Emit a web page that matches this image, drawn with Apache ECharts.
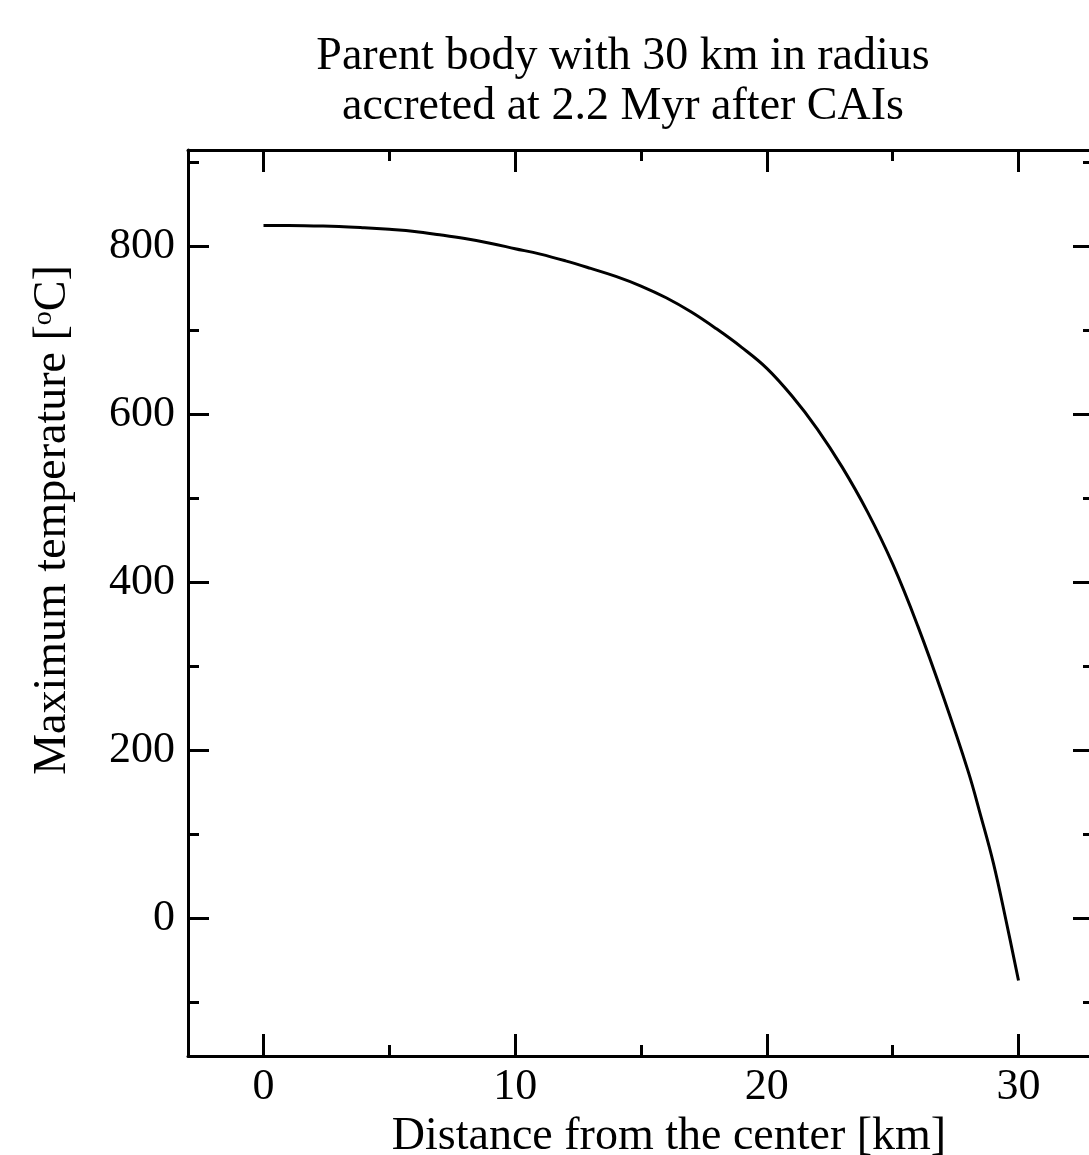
<!DOCTYPE html>
<html>
<head>
<meta charset="utf-8">
<script src="https://cdn.jsdelivr.net/npm/echarts@6/dist/echarts.min.js"></script>
<style>
html,body{margin:0;padding:0;background:#fff;}
#chart{width:1089px;height:1155px;}
</style>
</head>
<body>
<div id="chart"></div>
<script>
// Data
const distanceKm = [0,1,2,3,4,5,6,7,8,9,10,11,12,13,14,15,16,17,18,19,20,21,22,23,24,25,26,27,28,28.5,29,29.5,30];
const maxTempC   = [825,825,824.5,824,822.5,820.5,818,814,809.5,804,797.5,791,783,774,764.5,753,739,722,702,680,655,622,583,537,484,422,348,265,175,122,66,-2,-74];

const xMajorTicks = [0,10,20,30];
const xMinorTicks = [5,15,25];
const yMajorTicks = [0,200,400,600,800];
const yMinorTicks = [-100,100,300,500,700,900];

const titleLines = ['Parent body with 30 km in radius','accreted at 2.2 Myr after CAIs'];
const xName = 'Distance from the center [km]';

const FONT = '"Liberation Serif","DejaVu Serif",serif';
const INK = '#000';
const X_MIN = -3, X_MAX = 33, Y_MIN = -164, Y_MAX = 915;

function xAx(pos, ticks, len, opts) {
  return Object.assign({
    type: 'value', position: pos, min: X_MIN, max: X_MAX,
    axisLine: {show: false, onZero: false},
    axisTick: {show: true, inside: true, length: len, customValues: ticks, lineStyle: {color: INK, width: 3}},
    axisLabel: {show: false},
    splitLine: {show: false}
  }, opts || {});
}
function yAx(pos, ticks, len, opts) {
  return Object.assign({
    type: 'value', position: pos, min: Y_MIN, max: Y_MAX,
    axisLine: {show: false, onZero: false},
    axisTick: {show: true, inside: true, length: len, customValues: ticks, lineStyle: {color: INK, width: 3}},
    axisLabel: {show: false},
    splitLine: {show: false}
  }, opts || {});
}

const chart = echarts.init(document.getElementById('chart'), null, {renderer: 'canvas'});
chart.setOption({
  backgroundColor: '#fff',
  animation: false,
  title: {
    text: titleLines.join('\n'),
    left: 623, top: 32, padding: 0, textAlign: 'center',
    textStyle: {fontFamily: FONT, fontSize: 46, fontWeight: 'normal', color: INK, lineHeight: 50}
  },
  grid: {left: 188, top: 150, width: 906, height: 906, containLabel: false, outerBoundsMode: 'none'},
  xAxis: [
    xAx('bottom', xMajorTicks, 22, {
      axisLine: {show: true, onZero: false, lineStyle: {color: INK, width: 3}},
      axisLabel: {show: true, customValues: xMajorTicks, fontFamily: FONT, fontSize: 44, color: INK, margin: 9},
      name: xName, nameLocation: 'middle', nameGap: 55,
      nameTextStyle: {fontFamily: FONT, fontSize: 46, color: INK, padding: [0,0,0,56]}
    }),
    xAx('bottom', xMinorTicks, 11),
    xAx('top', xMajorTicks, 22, {axisLine: {show: true, onZero: false, lineStyle: {color: INK, width: 3}}}),
    xAx('top', xMinorTicks, 11)
  ],
  yAxis: [
    yAx('left', yMajorTicks, 21, {
      axisLine: {show: true, onZero: false, lineStyle: {color: INK, width: 3}},
      axisLabel: {show: true, customValues: yMajorTicks, fontFamily: FONT, fontSize: 44, color: INK, margin: 13},
      name: '{t|Maximum temperature [}{s|o}{t|C]}', nameLocation: 'middle', nameGap: 112,
      nameTextStyle: {
        fontFamily: FONT, fontSize: 46, color: INK, padding: [0,0,0,166],
        rich: {
          t: {fontFamily: FONT, fontSize: 46, color: INK},
          s: {fontFamily: FONT, fontSize: 28, color: INK, verticalAlign: 'top'}
        }
      }
    }),
    yAx('left', yMinorTicks, 11),
    yAx('right', yMajorTicks, 21, {axisLine: {show: true, onZero: false, lineStyle: {color: INK, width: 3}}}),
    yAx('right', yMinorTicks, 11)
  ],
  series: [{
    type: 'line',
    xAxisIndex: 0, yAxisIndex: 0,
    data: distanceKm.map((d, i) => [d, maxTempC[i]]),
    showSymbol: false, symbol: 'none',
    smooth: 0.4,
    lineStyle: {color: INK, width: 3},
    silent: true
  }]
});
</script>
</body>
</html>
